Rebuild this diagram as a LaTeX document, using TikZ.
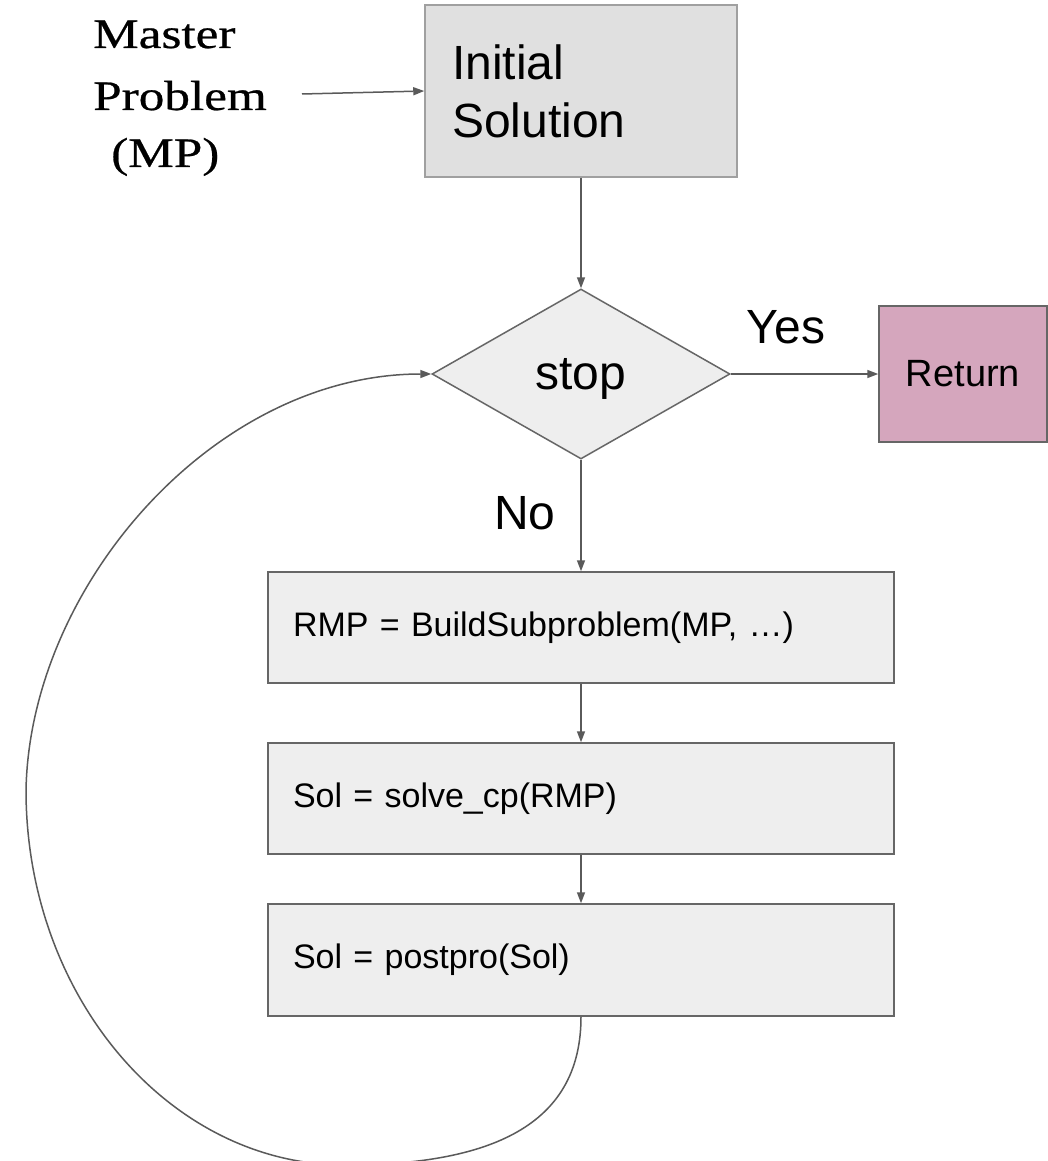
\documentclass[tikz,border=0pt]{standalone}
\usepackage{fontspec}
\setmainfont{Liberation Sans}
\newfontfamily\mpserif[FakeStretch=1.22,FakeBold=0.6]{Liberation Serif}
\usetikzlibrary{shapes.geometric,arrows.meta}

\definecolor{edgegray}{HTML}{666666}
\definecolor{initfill}{HTML}{E0E0E0}
\definecolor{initedge}{HTML}{A0A0A0}
\definecolor{boxfill}{HTML}{EEEEEE}
\definecolor{retfill}{HTML}{D5A6BD}
\definecolor{arrowgray}{HTML}{5A5A5A}

\begin{document}
\begin{tikzpicture}[x=1pt,y=-1pt,
  conn/.style={draw=arrowgray, line width=1.5pt,
    -{Triangle[length=11pt,width=8pt]}},
  initbox/.style={draw=initedge, fill=initfill, line width=1.5pt,
    minimum width=312pt, minimum height=172pt, text width=258pt,
    inner xsep=27pt, align=left, font=\fontsize{48}{58}\selectfont},
  decision/.style={diamond, draw=edgegray, fill=boxfill, line width=1.5pt,
    minimum width=298pt, minimum height=170pt, inner sep=0pt,
    text depth=0pt, font=\fontsize{48}{58}\selectfont},
  retbox/.style={draw=edgegray, fill=retfill, line width=1.5pt,
    minimum width=168pt, minimum height=136pt,
    font=\fontsize{38}{46}\selectfont},
  procbox/.style={draw=edgegray, fill=boxfill, line width=1.5pt,
    minimum width=626pt, minimum height=111pt, text width=576pt,
    inner xsep=25pt, align=left, font=\fontsize{34}{40}\selectfont},
  lbl/.style={inner sep=0pt, font=\fontsize{48}{58}\selectfont},
  mptext/.style={inner sep=0pt, anchor=base west,
    font=\mpserif\fontsize{42}{48}\selectfont}
]
\fill[white] (0,0) rectangle (1048,1161);
\useasboundingbox (0,0) rectangle (1048,1161);

% input label
\node[mptext] (mp1) at (93,48) {Master};
\node[mptext] (mp2) at (93,110) {Problem};
\node[mptext] (mp3) at (111,167) {(MP)};
\coordinate (mpout) at (302,94);

% flow nodes
\node[initbox] (init) at (581,91) {Initial\\Solution};
\node[decision] (stop) at (581,374) {stop};
\node[retbox] (ret) at (963,374) {Return};
\node[procbox] (rmp) at (581,627.5) {RMP = BuildSubproblem(MP, …)};
\node[procbox] (sol) at (581,798.5) {Sol = solve\_cp(RMP)};
\node[procbox, minimum height=112pt] (post) at (581,960) {Sol = postpro(Sol)};

% branch labels
\node[lbl, anchor=base] (yes) at (786,343) {Yes};
\node[lbl, anchor=base] (no) at (525,529) {No};

% connectors
\draw[conn] (mpout) -- (init.west);
\draw[conn] (init.south) -- (stop.north);
\draw[conn] (stop.east) -- (ret.west);
\draw[conn] (stop.south) -- (rmp.north);
\draw[conn] (rmp.south) -- (sol.north);
\draw[conn] (sol.south) -- (post.north);
\draw[conn] (post.south)
  .. controls (581,1120) and (500,1165) .. (345,1165)
  .. controls (169,1165) and (26,996) .. (26,790)
  .. controls (30,585) and (215,374) .. (stop.west);
\end{tikzpicture}
\end{document}
